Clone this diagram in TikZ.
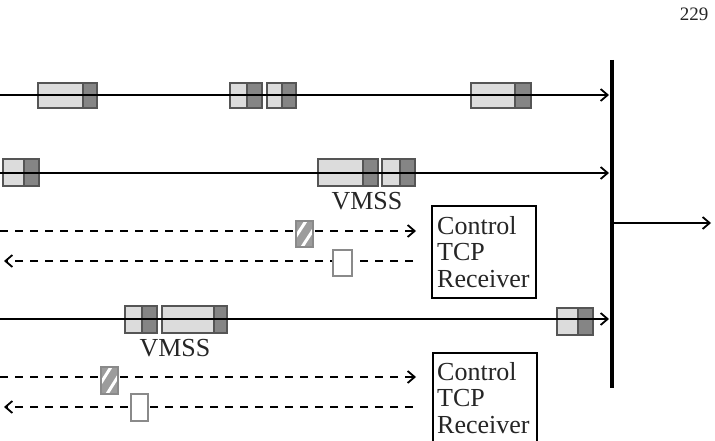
\documentclass[tikz,border=0pt]{standalone}
\usepackage{fontspec}
\setmainfont{Liberation Serif}
\usetikzlibrary{arrows.meta}
\definecolor{pktlight}{HTML}{DCDCDC}
\definecolor{pktdark}{HTML}{858585}
\definecolor{pktedge}{HTML}{555555}
\definecolor{hatchgray}{HTML}{9C9C9C}
\definecolor{ackedge}{HTML}{8A8A8A}
\tikzset{
  flow/.style={line width=1.8pt, -{Straight Barb[length=7pt,width=12pt,line width=1.8pt]}},
  dflow/.style={flow, line width=2.2pt, dash pattern=on 8pt off 7pt},
  pktedgestyle/.style={draw=pktedge, line width=1.6pt},
  ctrlbox/.style={draw, line width=1.8pt, anchor=north west, inner sep=0pt, fill=white},
  lbl/.style={font=\fontsize{26}{26.5}\selectfont, inner sep=0pt, text=black!85},
}
% packet: light part xa..xb, dark part xb..xc, from ya to yb
\newcommand\mypkt[5]{%
  \fill[pktlight] (#1,#4) rectangle (#2,#5);
  \fill[pktdark] (#2,#4) rectangle (#3,#5);
  \draw[pktedgestyle] (#1,#4) rectangle (#3,#5);
  \draw[pktedge, line width=1.3pt] (#2,#4) -- (#2,#5);
}
% hatched control packet
\newcommand\myhatch[4]{%
  \fill[hatchgray] (#1,#2) rectangle (#3,#4);
  \begin{scope}
    \clip (#1,#2) rectangle (#3,#4);
    \foreach \t in {-7,6} {\draw[white, line width=3pt] (#1+\t,#4) -- (#1+\t+17,#2);}
  \end{scope}
  \draw[ackedge, line width=1.2pt] (#1,#2) rectangle (#3,#4);
}
% white ack packet
\newcommand\myack[4]{%
  \draw[ackedge, fill=white, line width=1.2pt] (#1,#2) rectangle (#3,#4);
}
\begin{document}
\begin{tikzpicture}[x=1pt, y=-1pt]
\clip (0,0) rectangle (715,441);
\fill[white] (0,0) rectangle (715,441);

\node[font=\fontsize{19}{19}\selectfont, inner sep=0pt, text=black!85] (pg) at (694,14) {229};

% coordinates
\coordinate (r1s) at (0,95);   \coordinate (r1e) at (609,95);
\coordinate (r2s) at (0,173);  \coordinate (r2e) at (609,173);
\coordinate (r3s) at (0,231);  \coordinate (r3e) at (416,231);
\coordinate (r4s) at (413,261); \coordinate (r4e) at (4,261);
\coordinate (r5s) at (0,319);  \coordinate (r5e) at (609,319);
\coordinate (r6s) at (0,377);  \coordinate (r6e) at (416,377);
\coordinate (r7s) at (413,407); \coordinate (r7e) at (4,407);
\coordinate (bt) at (612,60);  \coordinate (bb) at (612,388);
\coordinate (os) at (612,223); \coordinate (oe) at (711,223);

% row 1 packets
\mypkt{38}{83}{97}{83}{108}
\mypkt{230}{247}{262}{83}{108}
\mypkt{267}{282}{296}{83}{108}
\mypkt{471}{515}{531}{83}{108}
\draw[flow] (r1s) -- (r1e);

% row 2 packets
\mypkt{3}{24}{39}{159}{186}
\mypkt{318}{363}{378}{159}{186}
\mypkt{382}{400}{415}{159}{186}
\draw[flow] (r2s) -- (r2e);
\node[lbl] (v1) at (367,201) {VMSS};

% control rows 1
\draw[dflow] (r3s) -- (r3e);
\draw[dflow] (r4s) -- (r4e);
\myhatch{296}{221}{313}{247}
\myack{333}{250}{352}{276}

\node[ctrlbox, minimum width=104pt, minimum height=92pt] (cb1) at (431,205) {};
\node[lbl, align=left, anchor=north west] (ct1) at (437,216) {Control\\TCP\\Receiver};

% row 5 packets
\mypkt{125}{142}{157}{306}{333}
\mypkt{162}{214}{227}{306}{333}
\mypkt{557}{578}{593}{308}{335}
\draw[flow] (r5s) -- (r5e);
\node[lbl] (v2) at (175,348) {VMSS};

% control rows 2
\draw[dflow] (r6s) -- (r6e);
\draw[dflow] (r7s) -- (r7e);
\myhatch{101}{367}{118}{394}
\myack{131}{394}{148}{421}

\node[ctrlbox, minimum width=104pt, minimum height=100pt] (cb2) at (432,352) {};
\node[lbl, align=left, anchor=north west] (ct2) at (437,362) {Control\\TCP\\Receiver};

% bar and output
\draw[line width=4.5pt] (bt) -- (bb);
\draw[flow] (os) -- (oe);
\end{tikzpicture}
\end{document}
